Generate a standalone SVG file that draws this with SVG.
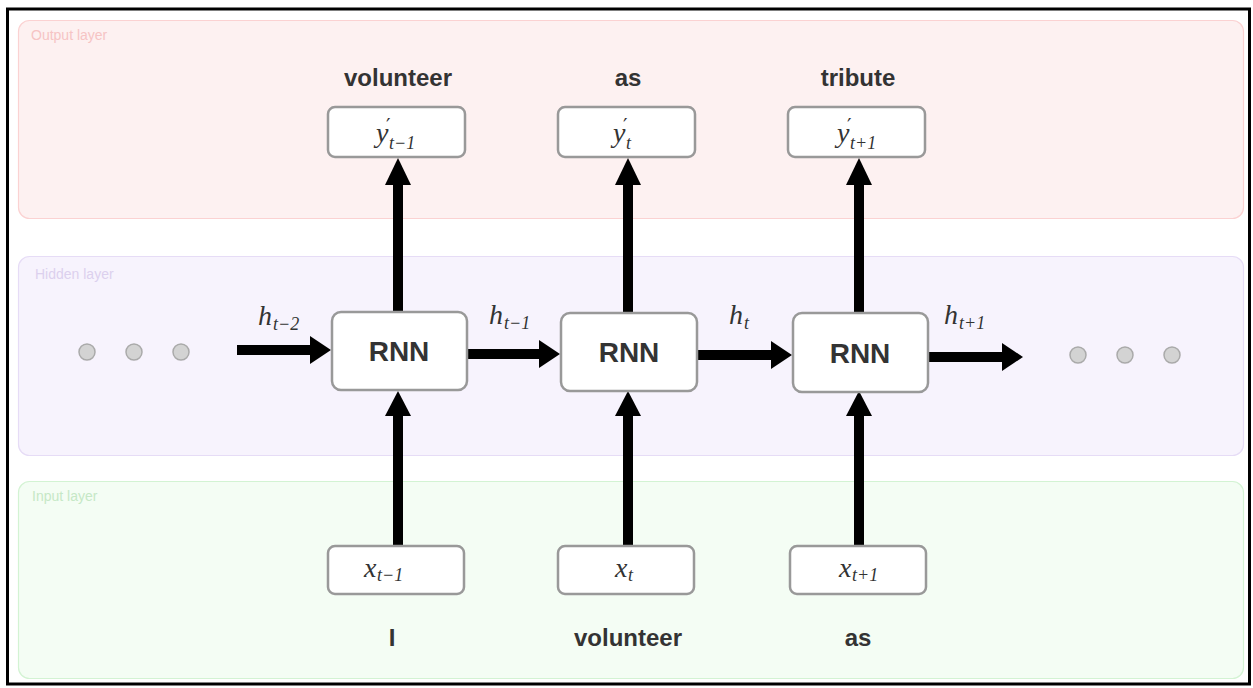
<svg xmlns="http://www.w3.org/2000/svg" width="1253" height="688" viewBox="0 0 1253 688">
  <defs>
    <style>
      .frame { fill: #ffffff; stroke: #000000; stroke-width: 3; }
      .layer-title { font-family: "Liberation Sans", Arial, sans-serif; font-size: 14px; }
      .box { fill: #ffffff; stroke: #999999; stroke-width: 2.5; }
      .rnn-label { font-family: "Liberation Sans", Arial, sans-serif; font-size: 28px; font-weight: bold; fill: #333333; text-anchor: middle; }
      .word { font-family: "Liberation Sans", Arial, sans-serif; font-size: 24px; font-weight: bold; fill: #333333; text-anchor: middle; }
      .math { font-family: "Liberation Serif", "Times New Roman", serif; font-style: italic; fill: #333333; }
      .big { font-size: 28px; }
      .sub { font-size: 18px; }
      .prime { font-family: "DejaVu Serif", serif; font-size: 20px; fill: #333333; }
      .dot { fill: #d3d3d3; stroke: #aaaaaa; stroke-width: 1.5; }
      .wire { stroke: #000000; stroke-width: 10; fill: none; }
      .head { fill: #000000; }
    </style>
  </defs>

  <rect class="frame" x="7.5" y="9" width="1242" height="675"/>

  <!-- layer panels -->
  <g id="output-layer">
    <rect x="18.5" y="20.5" width="1225" height="198" rx="11" fill="#fdf1f1" stroke="#fbd2d2" stroke-width="1.2"/>
    <text class="layer-title" x="31" y="40" fill="#f6c4c4">Output layer</text>
  </g>
  <g id="hidden-layer">
    <rect x="18.5" y="256.5" width="1225" height="199" rx="11" fill="#f7f3fd" stroke="#e6dcf6" stroke-width="1.2"/>
    <text class="layer-title" x="35" y="279" fill="#dcd0ee">Hidden layer</text>
  </g>
  <g id="input-layer">
    <rect x="18.5" y="481.5" width="1225" height="197" rx="11" fill="#f4fdf4" stroke="#d3f3d3" stroke-width="1.2"/>
    <text class="layer-title" x="32" y="501" fill="#c6e8c6">Input layer</text>
  </g>

  <!-- connectors -->
  <g id="connectors">
    <!-- inputs to cells -->
    <line class="wire" x1="398" y1="546" x2="398" y2="414"/>
    <polygon class="head" points="385,416 411,416 398,391"/>
    <line class="wire" x1="628" y1="546" x2="628" y2="414"/>
    <polygon class="head" points="615,416 641,416 628,391"/>
    <line class="wire" x1="859" y1="546" x2="859" y2="414"/>
    <polygon class="head" points="846,416 872,416 859,391"/>
    <!-- cells to outputs -->
    <line class="wire" x1="398" y1="312" x2="398" y2="183"/>
    <polygon class="head" points="385,185 411,185 398,158"/>
    <line class="wire" x1="628" y1="312" x2="628" y2="183"/>
    <polygon class="head" points="615,185 641,185 628,158"/>
    <line class="wire" x1="859" y1="312" x2="859" y2="183"/>
    <polygon class="head" points="846,185 872,185 859,158"/>
    <!-- hidden state chain -->
    <line class="wire" x1="237" y1="350" x2="312" y2="350"/>
    <polygon class="head" points="310,336 310,364 331,350"/>
    <line class="wire" x1="467" y1="354" x2="541" y2="354"/>
    <polygon class="head" points="539,340 539,368 560,354"/>
    <line class="wire" x1="697" y1="355" x2="773" y2="355"/>
    <polygon class="head" points="771,341 771,369 792,355"/>
    <line class="wire" x1="928" y1="357" x2="1004" y2="357"/>
    <polygon class="head" points="1002,343 1002,371 1023,357"/>
  </g>

  <!-- hidden state labels -->
  <g id="h-labels">
    <text class="math big" x="258" y="325">h</text>
    <text class="math sub" x="273" y="330">t−2</text>
    <text class="math big" x="489" y="324">h</text>
    <text class="math sub" x="504" y="329">t−1</text>
    <text class="math big" x="729" y="324">h</text>
    <text class="math sub" x="744" y="329">t</text>
    <text class="math big" x="944" y="324">h</text>
    <text class="math sub" x="959" y="329">t+1</text>
  </g>

  <!-- ellipsis dots -->
  <g id="dots-left">
    <circle class="dot" cx="87" cy="352" r="8"/>
    <circle class="dot" cx="134" cy="352" r="8"/>
    <circle class="dot" cx="181" cy="352" r="8"/>
  </g>
  <g id="dots-right">
    <circle class="dot" cx="1078" cy="355" r="8"/>
    <circle class="dot" cx="1125" cy="355" r="8"/>
    <circle class="dot" cx="1172" cy="355" r="8"/>
  </g>

  <!-- recurrent cells -->
  <g id="rnn-1">
    <rect class="box" x="332" y="312" width="135" height="78" rx="9"/>
    <text class="rnn-label" x="399" y="361">RNN</text>
  </g>
  <g id="rnn-2">
    <rect class="box" x="561" y="313" width="136" height="78" rx="9"/>
    <text class="rnn-label" x="629" y="362">RNN</text>
  </g>
  <g id="rnn-3">
    <rect class="box" x="793" y="313" width="135" height="79" rx="9"/>
    <text class="rnn-label" x="860" y="363">RNN</text>
  </g>

  <!-- output nodes -->
  <g id="out-1">
    <text class="word" x="398" y="86">volunteer</text>
    <rect class="box" x="328" y="107" width="137" height="50" rx="7"/>
    <text class="math big" x="376" y="142">y</text>
    <text class="prime" x="386" y="133">′</text>
    <text class="math sub" x="389" y="149">t−1</text>
  </g>
  <g id="out-2">
    <text class="word" x="628" y="86">as</text>
    <rect class="box" x="558" y="107" width="137" height="50" rx="7"/>
    <text class="math big" x="613" y="142">y</text>
    <text class="prime" x="623" y="133">′</text>
    <text class="math sub" x="626" y="149">t</text>
  </g>
  <g id="out-3">
    <text class="word" x="858" y="86">tribute</text>
    <rect class="box" x="788" y="107" width="137" height="50" rx="7"/>
    <text class="math big" x="837" y="142">y</text>
    <text class="prime" x="847" y="133">′</text>
    <text class="math sub" x="850" y="149">t+1</text>
  </g>

  <!-- input nodes -->
  <g id="in-1">
    <rect class="box" x="328" y="546" width="136" height="48" rx="7"/>
    <text class="math big" x="364" y="577">x</text>
    <text class="math sub" x="377" y="581">t−1</text>
    <text class="word" x="392" y="646">I</text>
  </g>
  <g id="in-2">
    <rect class="box" x="558" y="546" width="136" height="48" rx="7"/>
    <text class="math big" x="615" y="577">x</text>
    <text class="math sub" x="628" y="581">t</text>
    <text class="word" x="628" y="646">volunteer</text>
  </g>
  <g id="in-3">
    <rect class="box" x="790" y="546" width="136" height="48" rx="7"/>
    <text class="math big" x="839" y="577">x</text>
    <text class="math sub" x="852" y="581">t+1</text>
    <text class="word" x="858" y="646">as</text>
  </g>
</svg>
